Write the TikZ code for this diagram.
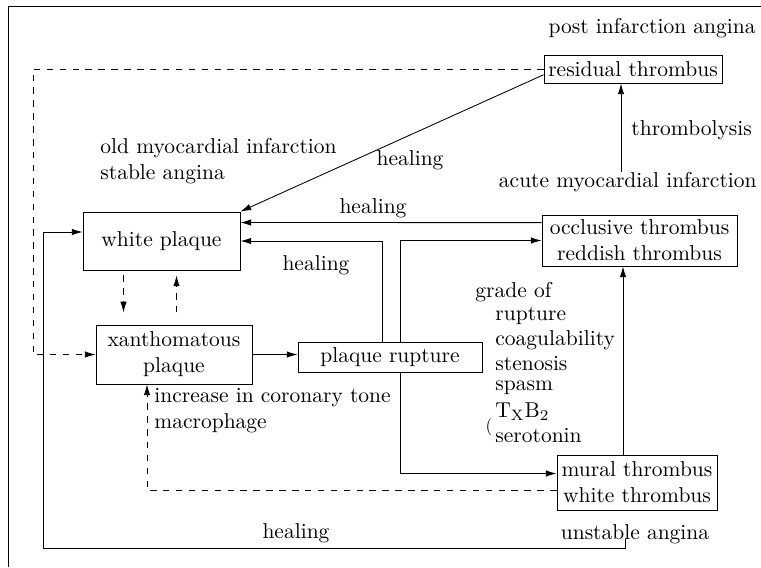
\documentclass[tikz,border=0pt]{standalone}
\usepackage{amsmath}
\usepackage{tikz}
\usetikzlibrary{calc, arrows.meta}

\begin{document}
\begin{tikzpicture}[x=0.465pt, y=-0.465pt, >={Latex[length=5pt, width=3pt]},
    box/.style={draw, inner sep=2pt, align=center},
    lbl/.style={inner sep=0pt, align=left}]
        \useasboundingbox (0,0) rectangle (761,567);
        \draw (8,567) -- (8,6) -- (761,6);

        \node[box, minimum width=81pt, minimum height=13pt] (residual) at (633, 69) {residual thrombus};
        \node[box, minimum width=73pt, minimum height=27pt] (white) at (161.5, 241) {white plaque};
        \node[box, minimum width=72.5pt, minimum height=27.4pt] (xanth) at (174, 354.5) {xanthomatous\\plaque};
        \node[box, minimum width=85.6pt, minimum height=14pt] (rupture) at (390, 357) {plaque rupture};
        \node[box, minimum width=90.7pt, minimum height=23.7pt] (occlusive) at (639.5, 240.5) {occlusive thrombus\\reddish thrombus};
        \node[box, minimum width=74.4pt, minimum height=25.6pt] (mural) at (637, 482.5) {mural thrombus\\white thrombus};

        \node[lbl, anchor=east] (post) at (756, 28) {post infarction angina};
        \node[lbl, anchor=east] (acute) at (757, 182) {acute myocardial infarction};
        \node[lbl, anchor=west] (lysis) at (631, 130) {thrombolysis};
        \node[lbl, anchor=west] (old) at (100, 161) {old myocardial infarction\\stable angina};
        \node[lbl] (heal1) at (410, 160) {healing};
        \node[lbl] (heal2) at (373, 208) {healing};
        \node[lbl] (heal3) at (316, 265) {healing};
        \node[lbl] (heal4) at (296, 533) {healing};
        \node[lbl, anchor=west] (incr) at (154, 411) {increase in coronary tone\\macrophage};
        \node[lbl, anchor=west] (grade) at (475, 292) {grade of};
        \foreach \t [count=\i] in {rupture, coagulability, stenosis, spasm, {T$_{\mathrm{X}}$B$_2$}, serotonin}
            \node[lbl, anchor=west] (grade\i) at (495, 292+24*\i) {\t};
        \node[lbl, scale=0.8] (paren) at (489, 427) {(};
        \node[lbl] (unstable) at (635, 534) {unstable angina};

        \coordinate (tl) at (621, 0);
        \coordinate (dl) at (33, 69);
        \coordinate (mu) at ($(mural.north)+(-14,0)$);
        \coordinate (hr) at (625, 548);
        \coordinate (hl) at (43, 548);

        \draw[->] (tl |- acute.north) -- (tl |- residual.south);
        \draw[->] ($(residual.west)!0.4!(residual.south west)$) -- (white.north east);
        \draw[->] ($(occlusive.north west)+(0,8)$) -- ($(white.north east)+(0,11)$);
        \draw[->] ($(rupture.north)+(-8,0)$) |- (white.east);
        \draw[->] ($(rupture.north)+(10,0)$) |- (occlusive.west);
        \draw[->] ($(rupture.south)+(10,0)$) |- ($(mural.west)+(0,-9)$);
        \draw[->] (mu) -- (mu |- occlusive.south);
        \draw[->] (xanth.east) -- (xanth.east -| rupture.west);
        \draw[->] ($(hr)+(0,-9)$) -- (hr) -- (hl) |- ($(white.west)+(0,-9)$);

        \draw[dashed, ->] (residual.west) -- (dl) |- (xanth.west);
        \draw[dashed, ->] ($(white.south)+(-38,5)$) -- ($(white.south)+(-38,42)$);
        \draw[dashed, ->] ($(white.south)+(15,42)$) -- ($(white.south)+(15,5)$);
        \draw[dashed, ->] ($(mural.west)+(0,8)$) -| ($(xanth.south)+(-27,0)$);
\end{tikzpicture}
\end{document}
